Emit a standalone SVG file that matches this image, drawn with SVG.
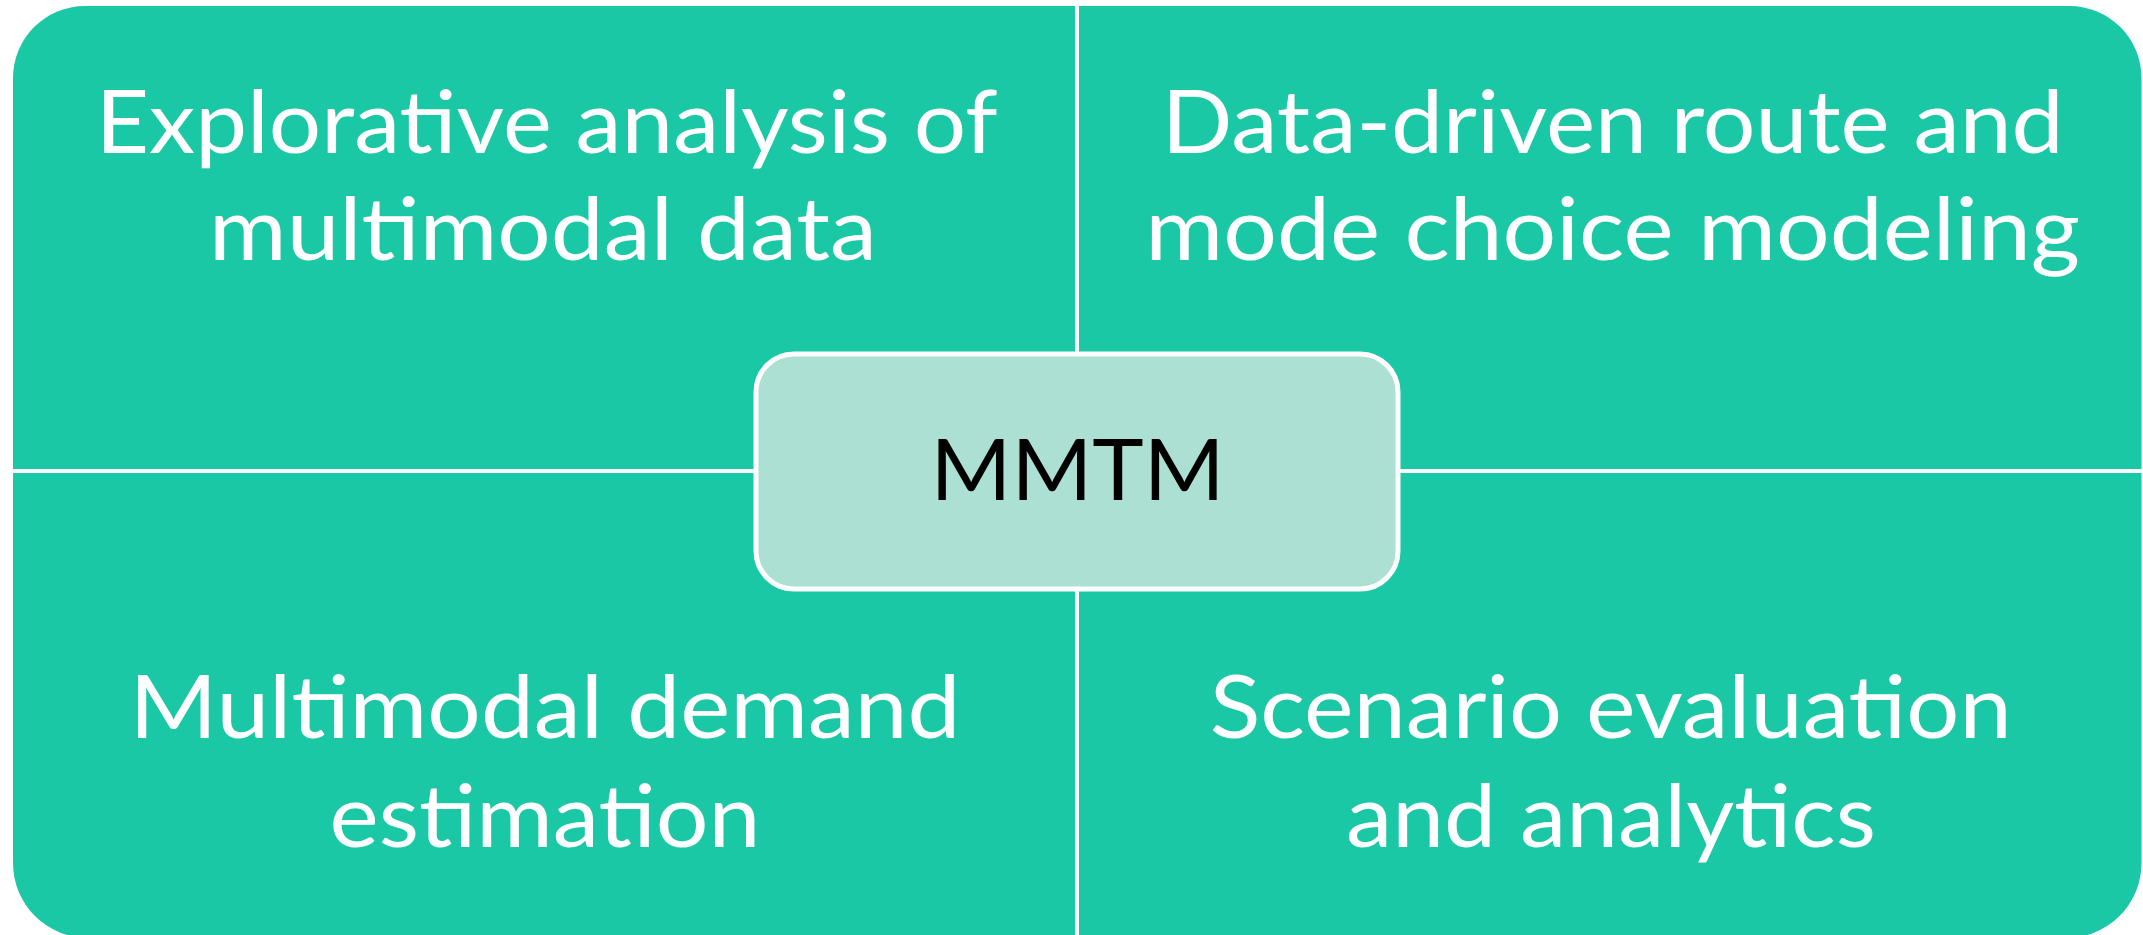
<svg xmlns="http://www.w3.org/2000/svg" width="2143" height="935" viewBox="0 0 2143 935">
<style>
.q{fill:#1BC8A6;}
.t{font-family:Lato,"Open Sans",sans-serif;font-size:88px;fill:#FFFFFF;text-anchor:middle;}
.c{font-family:Lato,"Open Sans",sans-serif;font-size:86px;fill:#000000;text-anchor:middle;}
.ln{stroke:#FFFFFF;stroke-width:4;fill:none;}
</style>
<rect width="2143" height="935" fill="#FFFFFF"/>
<g id="quadrant-tl">
<path class="q" d="M13,78 A72,72 0 0 1 85,6 L1077,6 L1077,471 L13,471 Z"/>
<text class="t" x="546.7" y="153" textLength="902" lengthAdjust="spacingAndGlyphs">Explorative analysis of</text>
<text class="t" x="543" y="259.7" textLength="668" lengthAdjust="spacingAndGlyphs">multimodal data</text>
</g>
<g id="quadrant-tr">
<path class="q" d="M1077,6 L2069.5,6 A72,72 0 0 1 2141.5,78 L2141.5,471 L1077,471 Z"/>
<text class="t" x="1612.7" y="153" textLength="902" lengthAdjust="spacingAndGlyphs">Data-driven route and</text>
<text class="t" x="1612.7" y="259.7" textLength="935" lengthAdjust="spacingAndGlyphs">mode choice modeling</text>
</g>
<g id="quadrant-bl">
<path class="q" d="M13,471 L1077,471 L1077,938 L88,938 A75,75 0 0 1 13,863 Z"/>
<text class="t" x="545" y="738" textLength="831" lengthAdjust="spacingAndGlyphs">Multimodal demand</text>
<text class="t" x="545" y="847" textLength="431" lengthAdjust="spacingAndGlyphs">estimation</text>
</g>
<g id="quadrant-br">
<path class="q" d="M1077,471 L2141.5,471 L2141.5,863 A75,75 0 0 1 2066.5,938 L1077,938 Z"/>
<text class="t" x="1610.7" y="738" textLength="802" lengthAdjust="spacingAndGlyphs">Scenario evaluation</text>
<text class="t" x="1611" y="847" textLength="530" lengthAdjust="spacingAndGlyphs">and analytics</text>
</g>
<g id="connectors">
<line class="ln" x1="1077" y1="0" x2="1077" y2="935"/>
<line class="ln" x1="0" y1="471" x2="2143" y2="471"/>
</g>
<g id="center-mmtm">
<rect x="756" y="354" width="642" height="235" rx="38" ry="38" fill="#ACE0D2" stroke="#FFFFFF" stroke-width="5"/>
<text class="c" x="1077.6" y="500" textLength="294" lengthAdjust="spacingAndGlyphs">MMTM</text>
</g>
</svg>
